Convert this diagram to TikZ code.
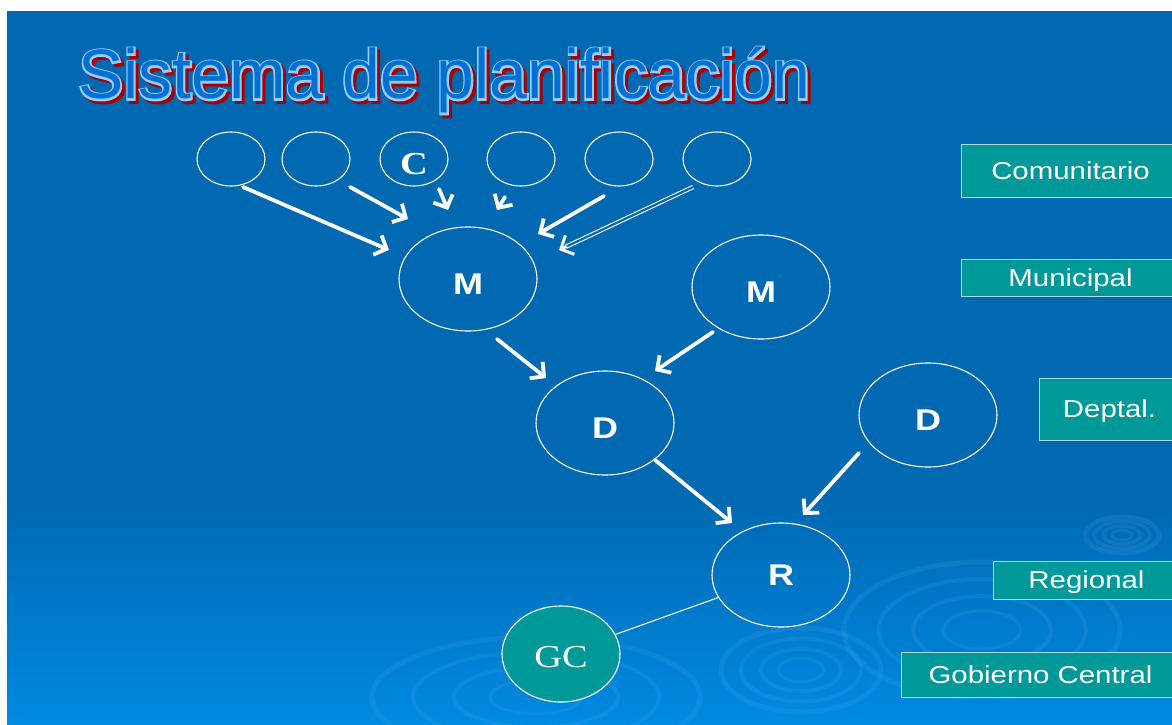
\documentclass[tikz,border=0pt]{standalone}
\usepackage{fontspec}
\setmainfont{Liberation Sans}
\newfontfamily\labfont[FakeStretch=1.2]{Liberation Sans}
\newfontfamily\serfont[FakeStretch=1.2]{Liberation Serif}
\newfontfamily\titfont[FakeStretch=0.97]{Liberation Sans}
\newfontfamily\titfontB[FakeStretch=0.97,FakeBold=5]{Liberation Sans}
\usetikzlibrary{shapes.geometric,arrows.meta}
\definecolor{bgtop}{RGB}{0,105,178}
\definecolor{bgbot}{RGB}{0,138,226}
\definecolor{tealbox}{RGB}{0,153,153}
\definecolor{boxline}{RGB}{170,222,222}
\definecolor{titfill}{RGB}{0,112,210}
\definecolor{titline}{RGB}{150,205,255}
\definecolor{titshadow}{RGB}{170,0,0}
\definecolor{ripplec}{RGB}{120,190,255}
\tikzset{
  ell/.style={ellipse, draw=white, line width=1.1pt, inner sep=0pt, text=white},
  smallell/.style={ell, minimum width=68pt, minimum height=54pt},
  bigell/.style={ell, minimum width=138pt, minimum height=104pt,
    font=\labfont\bfseries\fontsize{30}{30}\selectfont},
  arr/.style={draw=white, line width=3.8pt, line cap=round,
    -{Straight Barb[length=10pt,width=21pt]}},
  labbox/.style={draw=boxline, line width=1pt, fill=tealbox, text=white,
    inner sep=0pt, text height=17.5pt, text depth=0pt,
    font=\labfont\fontsize{24.5}{24.5}\selectfont},
  ripple/.style={draw=ripplec, opacity=0.11},
  tit/.style={anchor=base west, inner sep=0pt,
    font=\titfont\fontsize{70}{70}\selectfont},
  titB/.style={anchor=base west, inner sep=0pt,
    font=\titfontB\fontsize{70}{70}\selectfont}
}
\begin{document}
\begin{tikzpicture}[x=1pt,y=-1pt]
\useasboundingbox (0,0) rectangle (1172,725);
\fill[white] (0,0) rectangle (1172,725);
\fill[bgtop] (7,11) rectangle (1172,500);
\shade[top color=bgtop, bottom color=bgbot] (7,500) rectangle (1172,725);
% ripples
\begin{scope}
\clip (7,11) rectangle (1172,725);
\foreach \r/\w in {1/5,0.75/4,0.5/4,0.28/3}{
  \draw[ripple, line width=\w pt] (982,630) ellipse ({138*\r} and {68*\r});
  \draw[ripple, line width=\w pt] (536,697) ellipse ({164*\r} and {60*\r});
  \draw[ripple, line width=\w pt] (801,670) ellipse ({80*\r} and {42*\r});
  \draw[ripple, line width=\w pt] (1122,535) ellipse ({37*\r} and {18*\r});
}
\end{scope}
% title: shadow, outline, fill
\node[titB, text=titshadow] (titleshadow) at (81,102) {Sistema de planificación};
\node[titB, text=titline] (titleline) at (78,99) {Sistema de planificación};
\node[tit, text=titfill] (title) at (78,99) {Sistema de planificación};
% community circles
\node[smallell] (c1) at (231,159) {};
\node[smallell] (c2) at (316,159) {};
\node[smallell, text height=31pt, text depth=0pt,
  font=\serfont\bfseries\fontsize{32}{32}\selectfont] (c3) at (414,159) {C};
\node[smallell] (c4) at (521,159) {};
\node[smallell] (c5) at (619,159) {};
\node[smallell] (c6) at (717,159) {};
% big circles
\node[bigell, text height=31.5pt, text depth=0pt] (m1) at (468,279) {M};
\node[bigell, text height=31.5pt, text depth=0pt] (m2) at (761,287) {M};
\node[bigell, text height=31.5pt, text depth=0pt] (d1) at (605,423) {D};
\node[bigell, text height=31.5pt, text depth=0pt] (d2) at (928,415) {D};
\node[bigell] (r) at (781,575) {R};
\node[ell, fill=tealbox, minimum width=118pt, minimum height=96pt,
  text height=26pt, text depth=0pt,
  font=\serfont\fontsize{32}{32}\selectfont] (gc) at (561,654) {GC};
% arrow end points
\coordinate (a1s) at (243,187); \coordinate (a1e) at (389,250);
\coordinate (a2s) at (350,187); \coordinate (a2e) at (408,219);
\coordinate (a3s) at (439,189); \coordinate (a3e) at (448,210);
\coordinate (a4s) at (505,197); \coordinate (a4e) at (497,210);
\coordinate (a5s) at (604,196); \coordinate (a5e) at (538,234);
\coordinate (a6s) at (693,187); \coordinate (a6m) at (566,246.7); \coordinate (a6e) at (559,250);
\coordinate (b1s) at (497,339); \coordinate (b1e) at (546,378);
\coordinate (b2s) at (713,332); \coordinate (b2e) at (655,371);
\coordinate (b3s) at (655,460); \coordinate (b3e) at (732,523);
\coordinate (b4s) at (859,453); \coordinate (b4e) at (803,515);
\draw[arr] (a1s) -- (a1e);
\draw[arr] (a2s) -- (a2e);
\draw[arr] (a3s) -- (a3e);
\draw[arr] (a4s) -- (a4e);
\draw[arr] (a5s) -- (a5e);
\draw[draw=white, line width=1.1pt, double=bgtop, double distance=2.2pt] (a6s) -- (a6m);
\draw[arr, line width=3pt] (a6m) -- (a6e);
\draw[arr] (b1s) -- (b1e);
\draw[arr] (b2s) -- (b2e);
\draw[arr] (b3s) -- (b3e);
\draw[arr] (b4s) -- (b4e);
\draw[white, line width=1.1pt] (r) -- (gc);
% level labels
\node[labbox, minimum width=219pt, minimum height=53pt] (lc) at (1070.5,170.5) {Comunitario};
\node[labbox, minimum width=219pt, minimum height=37pt] (lm) at (1070.5,277.5) {Municipal};
\node[labbox, minimum width=141pt, minimum height=62pt] (ld) at (1109.5,409) {Deptal.};
\node[labbox, minimum width=187pt, minimum height=38pt] (lr) at (1086.5,580) {Regional};
\node[labbox, minimum width=279pt, minimum height=45pt] (lg) at (1040.5,674.5) {Gobierno Central};
\end{tikzpicture}
\end{document}
